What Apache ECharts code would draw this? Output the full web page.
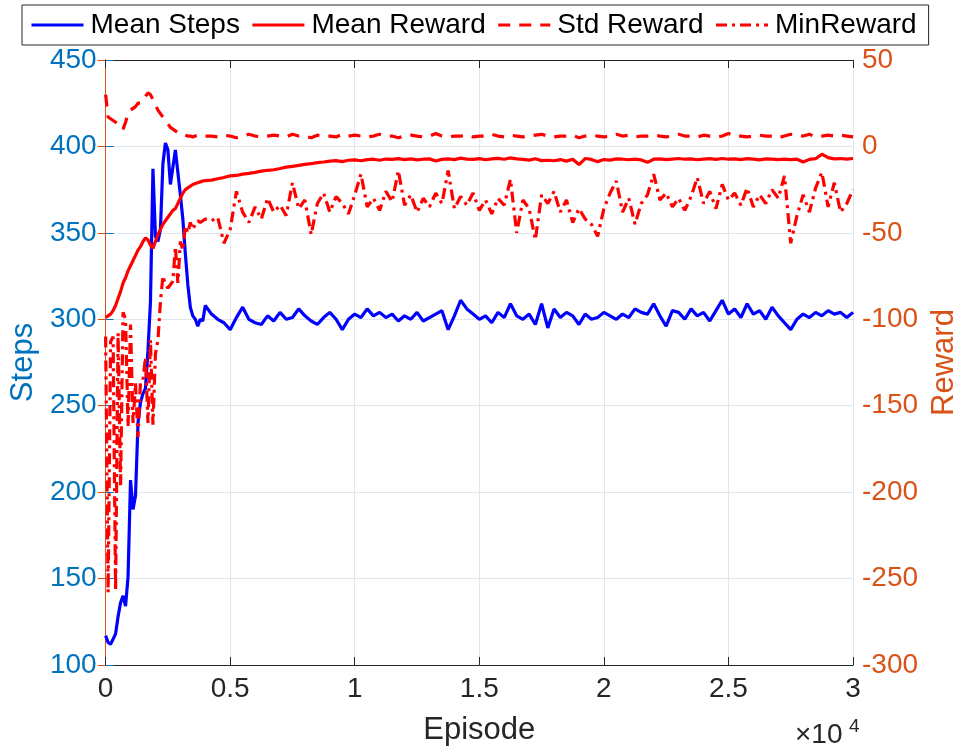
<!DOCTYPE html>
<html>
<head>
<meta charset="utf-8">
<script src="https://cdn.jsdelivr.net/npm/echarts@6/dist/echarts.min.js"></script>
<style>
html,body{margin:0;padding:0;background:#fff;overflow:hidden;}
#chart{width:968px;height:752px;}
</style>
</head>
<body>
<div id="chart"></div>
<script>
const episodes = [
0,100,200,300,400,500,600,700,800,900,
1000,1100,1200,1300,1400,1500,1600,1700,1800,1900,
2000,2100,2200,2300,2400,2500,2600,2700,2800,2900,
3000,3100,3200,3300,3400,3500,3600,3700,3800,3900,
4000,
4250,4500,4750,5000,5250,5500,5750,6000,6250,6500,
6750,7000,7250,7500,7750,8000,8250,8500,8750,9000,
9250,9500,9750,10000,10250,10500,10750,11000,11250,11500,
11750,12000,12250,12500,12750,13000,13250,13500,13750,14000,
14250,14500,14750,15000,15250,15500,15750,16000,16250,16500,
16750,17000,17250,17500,17750,18000,18250,18500,18750,19000,
19250,19500,19750,20000,20250,20500,20750,21000,21250,21500,
21750,22000,22250,22500,22750,23000,23250,23500,23750,24000,
24250,24500,24750,25000,25250,25500,25750,26000,26250,26500,
26750,27000,27250,27500,27750,28000,28250,28500,28750,29000,
29250,29500,29750,30000
];

const meanSteps = [
117,113,112,115,118,128,136,140,134,151,
207,190,198,240,252,257,260,282,310,387,
348,345,352,390,402,398,378,388,398,385,
372,358,338,320,307,302,300,296,300,299,
308,
303,300,298,294,301,307,300,298,297,302,
299,304,300,301,306,302,299,297,301,304,
300,294,300,303,301,306,302,304,301,303,
299,302,300,304,299,301,303,305,294,302,
311,306,303,300,302,298,304,301,309,302,
300,303,297,309,295,306,301,304,302,297,
303,300,301,304,302,300,303,301,306,304,
303,309,302,296,305,304,300,306,302,304,
299,305,311,303,306,301,309,303,305,300,
307,302,298,294,300,303,301,304,302,305,
303,304,301,304
];

const meanReward = [
-99,-98,-97,-95,-92,-88,-84,-79,-76,-72,
-69,-66,-63,-60,-58,-55,-53,-54,-57,-59,
-55,-51,-48,-45,-43,-41,-39,-37,-36,-33,
-30,-27,-25,-24,-23,-22,-21.5,-21,-20.5,-20,
-19.8,
-19.5,-18.7,-18,-17,-16.8,-16,-15.6,-15,-14.3,-13.8,
-13.5,-12.8,-12,-11.5,-11,-10.4,-10,-9.4,-9,-8.5,
-8.2,-8.8,-8,-7.8,-8.3,-7.6,-7.4,-8,-7.3,-7.5,
-7.1,-7.6,-7.2,-7.8,-7.4,-7.2,-8.4,-7.5,-7.2,-7.6,
-6.8,-7.3,-7.5,-7.1,-7.7,-7.2,-6.9,-7.4,-6.6,-7.2,
-7.5,-7.9,-7.1,-8.2,-8,-8.3,-7.6,-8.5,-7.4,-10.5,
-7,-7.5,-8.8,-7.6,-7.9,-7.2,-7.4,-7.7,-7.3,-7.8,
-9.2,-7.4,-7.2,-7.6,-7.3,-7,-7.4,-7.2,-7.7,-7.3,
-7.1,-7.5,-7,-7.4,-7.2,-7.6,-7.1,-7.3,-7.8,-7.2,
-7.4,-7.6,-7.3,-7.6,-7.4,-9,-7.5,-7.1,-4.5,-6.5,
-7.2,-7,-7.3,-7
];

const stdReward = [
30,17,16,15,14,13,12,10,14,19,
21,22,23,25,25,27,29,31,30,27,
24,21,19,17,15,13,11,10,9,8,
7,7,6.5,6,6,5.5,6,6.5,6,6,
6,
6,5.5,6.5,6,5,6,7,6,5.5,6,
6.5,6,5.5,7,6,6,5,6.5,6,6,
5.5,7,6,6.5,6,5.5,6,7,6,6,
5,6,6.5,6,5.5,6,7.5,6,5.5,6,
6,6.5,5.5,6,6,7,6,5.5,6.5,6,
5.5,6,6.5,7,6,5.5,6,6,6.5,5,
6,6.5,6,5.5,6,7,6,6.5,5.5,6,
6,6.5,6,5.5,6,7,6,6,5.5,6.5,
6,5.5,6,7.5,6,6,5.5,6,6.5,6,
6,5,6,7,6.5,6,7,5.5,6,6.5,
6,6.5,6,5.5
];

const minReward = [
-110,-258,-113,-110,-257,-108,-196,-96,-100,-162,
-103,-160,-137,-168,-136,-135,-122,-160,-112,-161,
-120,-112,-90,-75,-80,-82,-80,-78,-58,-79,
-55,-60,-46,-50,-44,-48,-45,-43,-44,-43,
-42,
-43,-41,-56,-48,-26,-38,-44,-35,-42,-30,
-38,-34,-40,-21,-36,-31,-51,-33,-27,-38,
-29,-33,-39,-28,-16,-35,-30,-37,-26,-32,
-14,-34,-28,-38,-30,-35,-27,-33,-14,-36,
-29,-34,-27,-37,-31,-39,-30,-34,-19,-50,
-31,-36,-54,-28,-33,-26,-38,-31,-44,-36,
-42,-45,-52,-36,-27,-20,-38,-30,-45,-33,
-28,-16,-31,-27,-35,-30,-37,-29,-18,-33,
-26,-36,-22,-31,-27,-34,-24,-35,-28,-33,
-25,-30,-17,-56,-40,-28,-38,-24,-15,-35,
-21,-38,-33,-25
];

const legendNames = ['Mean Steps', 'Mean Reward', 'Std Reward', 'MinReward'];
const xTickDivisor = 10000;

const FONT = '"Liberation Sans", Arial, Helvetica, sans-serif';
const BLUE_AX = '#0072BD';
const ORANGE_AX = '#D95319';
const DARK = '#262626';
const GRIDC = '#e1e6ec';

function pairs(vals) { return episodes.map((e, i) => [e, vals[i]]); }

const chart = echarts.init(document.getElementById('chart'));
chart.setOption({
  animation: false,
  backgroundColor: '#ffffff',
  textStyle: { fontFamily: FONT },
  grid: { left: 103, right: 108, top: 60, bottom: 87, containLabel: false },
  legend: {
    data: legendNames,
    top: 5,
    left: 22,
    orient: 'horizontal',
    borderColor: DARK,
    borderWidth: 1,
    padding: [6, 12, 6, 8],
    itemWidth: 52,
    itemHeight: 14,
    itemGap: 11,
    itemStyle: { opacity: 0 },
    lineStyle: { width: 3 },
    textStyle: { fontSize: 28, color: '#000', fontFamily: FONT, padding: [0, 0, 0, 2] }
  },
  xAxis: [{
    type: 'value', min: 0, max: 30000, interval: 5000,
    position: 'bottom',
    axisLine: { show: true, onZero: false, lineStyle: { color: DARK, width: 1 } },
    axisTick: { show: true, inside: true, length: 8, lineStyle: { color: DARK } },
    axisLabel: { color: DARK, fontSize: 28, fontFamily: FONT, margin: 10,
      formatter: v => String(v / xTickDivisor) },
    splitLine: { show: true, lineStyle: { color: GRIDC, width: 1 } },
    name: 'Episode', nameLocation: 'middle', nameGap: 50,
    nameTextStyle: { color: DARK, fontSize: 31, fontFamily: FONT }
  }, {
    type: 'value', min: 0, max: 30000, interval: 5000,
    position: 'top',
    axisLine: { show: true, onZero: false, lineStyle: { color: DARK, width: 1 } },
    axisTick: { show: true, inside: true, length: 8, lineStyle: { color: DARK } },
    axisLabel: { show: false },
    splitLine: { show: false }
  }],
  yAxis: [{
    type: 'value', min: 100, max: 450, interval: 50,
    position: 'left',
    axisLine: { show: true, lineStyle: { color: BLUE_AX, width: 1 } },
    axisTick: { show: true, inside: true, length: 8, lineStyle: { color: BLUE_AX } },
    axisLabel: { color: BLUE_AX, fontSize: 28, fontFamily: FONT, margin: 9 },
    splitLine: { show: true, lineStyle: { color: GRIDC, width: 1 } },
    name: 'Steps', nameLocation: 'middle', nameGap: 66, nameRotate: 90,
    nameTextStyle: { color: BLUE_AX, fontSize: 31, fontFamily: FONT }
  }, {
    type: 'value', min: -300, max: 50, interval: 50,
    position: 'right',
    axisLine: { show: true, lineStyle: { color: ORANGE_AX, width: 1 } },
    axisTick: { show: true, inside: true, length: 8, lineStyle: { color: ORANGE_AX } },
    axisLabel: { color: ORANGE_AX, fontSize: 28, fontFamily: FONT, margin: 9 },
    splitLine: { show: false },
    name: 'Reward', nameLocation: 'middle', nameGap: 76, nameRotate: 90,
    nameTextStyle: { color: ORANGE_AX, fontSize: 31, fontFamily: FONT }
  }],
  series: [{
    name: legendNames[0], type: 'line', xAxisIndex: 0, yAxisIndex: 0,
    data: pairs(meanSteps), symbol: 'none', smooth: false,
    lineStyle: { color: '#0000FF', width: 3.2 }, itemStyle: { color: '#0000FF' }, z: 2
  }, {
    name: legendNames[1], type: 'line', xAxisIndex: 0, yAxisIndex: 1,
    data: pairs(meanReward), symbol: 'none',
    lineStyle: { color: '#FF0000', width: 3.2 }, itemStyle: { color: '#FF0000' }, z: 3
  }, {
    name: legendNames[2], type: 'line', xAxisIndex: 0, yAxisIndex: 1,
    data: pairs(stdReward), symbol: 'none',
    lineStyle: { color: '#FF0000', width: 3.2, type: [12, 9] }, itemStyle: { color: '#FF0000' }, z: 3
  }, {
    name: legendNames[3], type: 'line', xAxisIndex: 0, yAxisIndex: 1,
    data: pairs(minReward), symbol: 'none',
    lineStyle: { color: '#FF0000', width: 3.2, type: [11, 5, 3, 5] }, itemStyle: { color: '#FF0000' }, z: 3
  }],
  graphic: [{
    type: 'text', left: 795, top: 721,
    style: { text: '×10', fontSize: 28, fontFamily: FONT, fill: DARK }
  }, {
    type: 'text', left: 849, top: 717,
    style: { text: '4', fontSize: 19, fontFamily: FONT, fill: DARK }
  }]
});
</script>
</body>
</html>
